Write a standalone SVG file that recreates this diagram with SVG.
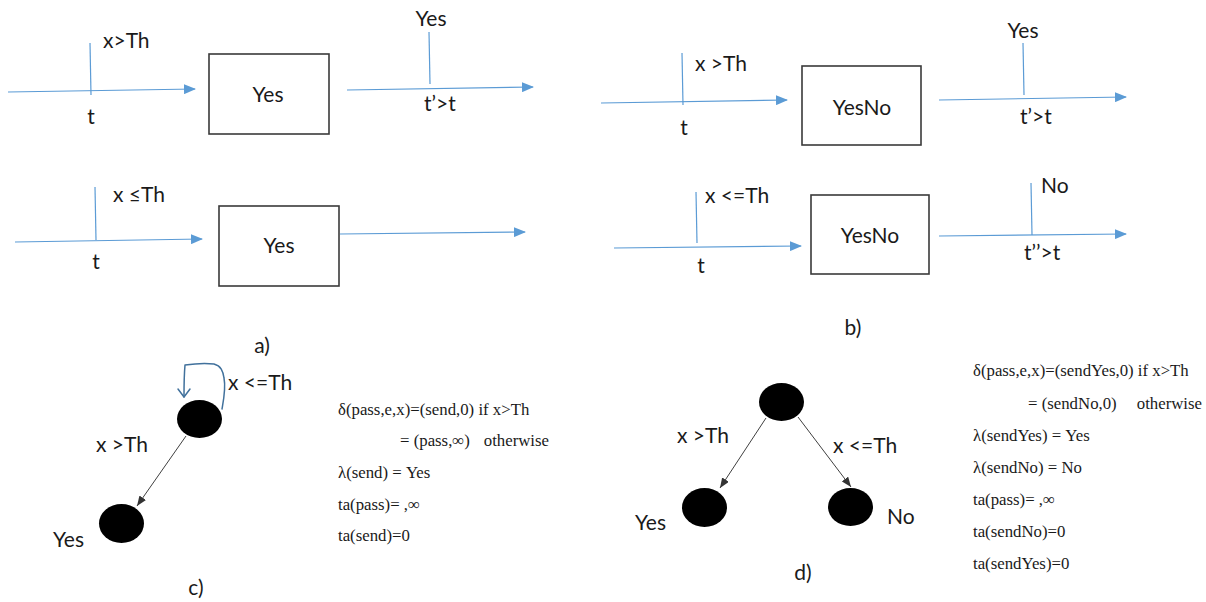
<svg xmlns="http://www.w3.org/2000/svg" width="1206" height="602" viewBox="0 0 1206 602">
<defs>
<style>
.lbl{font-family:Lato,"Open Sans","Liberation Sans",sans-serif;font-size:21px;fill:#1a1a1a}
.mid{text-anchor:middle}
.end{text-anchor:end}
.f{font-family:"Liberation Serif","Times New Roman",serif;font-size:16.8px;fill:#1a1a1a}
.ax{stroke:#5b9bd5;stroke-width:1.2;fill:none}
.axa{stroke:#5b9bd5;stroke-width:1.2;fill:none;marker-end:url(#ba)}
.box{fill:#fff;stroke:#3a3a3a;stroke-width:1.6}
.node{fill:#000}
.edge{stroke:#404040;stroke-width:1;fill:none;marker-end:url(#ka)}
.loop{stroke:#41719c;stroke-width:1.5;fill:none;stroke-linecap:round;stroke-linejoin:round}
</style>
<marker id="ba" markerUnits="userSpaceOnUse" markerWidth="12" markerHeight="10" refX="11" refY="5" orient="auto">
<path d="M0,0 L12,5 L0,10 Z" fill="#5b9bd5"/>
</marker>
<marker id="ka" markerUnits="userSpaceOnUse" markerWidth="10" markerHeight="8" refX="10" refY="4" orient="auto">
<path d="M0,0 L10,4 L0,8 Z" fill="#333"/>
</marker>
</defs>
<rect width="1206" height="602" fill="#fff"/>

<g id="connectors">
<!-- panel a -->
<line class="axa" x1="8" y1="92" x2="195" y2="89"/>
<line class="ax" x1="90" y1="43" x2="91" y2="95"/>
<line class="axa" x1="347" y1="90" x2="533" y2="87"/>
<line class="ax" x1="429" y1="32" x2="430" y2="84"/>
<line class="axa" x1="15" y1="242" x2="202" y2="239"/>
<line class="ax" x1="95" y1="187" x2="96" y2="240"/>
<line class="axa" x1="340" y1="234" x2="525" y2="232"/>
<!-- panel b -->
<line class="axa" x1="601" y1="103" x2="787" y2="100"/>
<line class="ax" x1="682" y1="53" x2="683" y2="105"/>
<line class="axa" x1="939" y1="100" x2="1126" y2="97"/>
<line class="ax" x1="1023" y1="43" x2="1024" y2="95"/>
<line class="axa" x1="614" y1="248" x2="801" y2="246"/>
<line class="ax" x1="696" y1="192" x2="697" y2="243"/>
<line class="axa" x1="939" y1="236" x2="1126" y2="234"/>
<line class="ax" x1="1031" y1="183" x2="1032" y2="235"/>
<!-- panel c -->
<path class="loop" d="M222,409 C224,398 226,388 224,378 C223,371 221,366 214,364 C205,363 192,364 185,365 C184,376 184,388 184,397"/>
<path class="loop" d="M178,389 L184,397 L190,389"/>
<line class="edge" x1="186" y1="436" x2="137" y2="506"/>
<!-- panel d -->
<line class="edge" x1="766" y1="418" x2="720" y2="488"/>
<line class="edge" x1="798" y1="417" x2="851" y2="487"/>
</g>

<g id="box-a1"><rect class="box" x="209" y="54" width="120" height="80"/><text class="lbl mid" x="268" y="102">Yes</text></g>
<g id="box-a2"><rect class="box" x="219" y="206" width="120" height="80"/><text class="lbl mid" x="279" y="253">Yes</text></g>
<g id="box-b1"><rect class="box" x="802" y="66" width="119" height="79"/><text class="lbl mid" x="862" y="115">YesNo</text></g>
<g id="box-b2"><rect class="box" x="811" y="195" width="118" height="79"/><text class="lbl mid" x="870" y="243">YesNo</text></g>

<g id="labels-a">
<text class="lbl" x="103" y="48">x&gt;Th</text>
<text class="lbl mid" x="91" y="124">t</text>
<text class="lbl mid" x="431" y="26">Yes</text>
<text class="lbl" x="424" y="111">t’&gt;t</text>
<text class="lbl" x="113" y="202">x ≤Th</text>
<text class="lbl mid" x="96" y="269">t</text>
<text class="lbl mid" x="262" y="353">a)</text>
</g>
<g id="labels-b">
<text class="lbl" x="695" y="71">x &gt;Th</text>
<text class="lbl mid" x="684" y="135">t</text>
<text class="lbl mid" x="1023" y="38">Yes</text>
<text class="lbl" x="1020" y="124">t’&gt;t</text>
<text class="lbl" x="705" y="203">x &lt;=Th</text>
<text class="lbl mid" x="701" y="273">t</text>
<text class="lbl" x="1041" y="193">No</text>
<text class="lbl" x="1024" y="260">t’’&gt;t</text>
<text class="lbl mid" x="853" y="335">b)</text>
</g>

<g id="node-c-pass"><ellipse class="node" cx="199.5" cy="419" rx="22.5" ry="19"/></g>
<g id="node-c-send"><ellipse class="node" cx="121.5" cy="523.5" rx="22.5" ry="19.5"/></g>
<g id="labels-c">
<text class="lbl" x="228" y="390">x &lt;=Th</text>
<text class="lbl" x="96" y="452">x &gt;Th</text>
<text class="lbl" x="53" y="547">Yes</text>
<text class="lbl mid" x="196" y="595">c)</text>
<text class="f" x="338" y="415">δ(pass,e,x)=(send,0) if x&gt;Th</text>
<text class="f" x="400" y="446">= (pass,∞)</text>
<text class="f end" x="549" y="446">otherwise</text>
<text class="f" x="338" y="478">λ(send) = Yes</text>
<text class="f" x="338" y="510">ta(pass)= ,∞</text>
<text class="f" x="338" y="541">ta(send)=0</text>
</g>

<g id="node-d-pass"><ellipse class="node" cx="781.5" cy="402" rx="22.5" ry="19"/></g>
<g id="node-d-yes"><ellipse class="node" cx="704.5" cy="507.5" rx="22.5" ry="19.5"/></g>
<g id="node-d-no"><ellipse class="node" cx="850.5" cy="507" rx="22.5" ry="19"/></g>
<g id="labels-d">
<text class="lbl" x="677" y="443">x &gt;Th</text>
<text class="lbl" x="833" y="453">x &lt;=Th</text>
<text class="lbl" x="635" y="530">Yes</text>
<text class="lbl" x="887" y="524">No</text>
<text class="lbl mid" x="803" y="580">d)</text>
<text class="f" x="973" y="376">δ(pass,e,x)=(sendYes,0) if x&gt;Th</text>
<text class="f" x="1028" y="409">= (sendNo,0)</text>
<text class="f end" x="1202" y="409">otherwise</text>
<text class="f" x="973" y="441">λ(sendYes) = Yes</text>
<text class="f" x="973" y="473">λ(sendNo) = No</text>
<text class="f" x="973" y="505">ta(pass)= ,∞</text>
<text class="f" x="973" y="537">ta(sendNo)=0</text>
<text class="f" x="973" y="569">ta(sendYes)=0</text>
</g>
</svg>
